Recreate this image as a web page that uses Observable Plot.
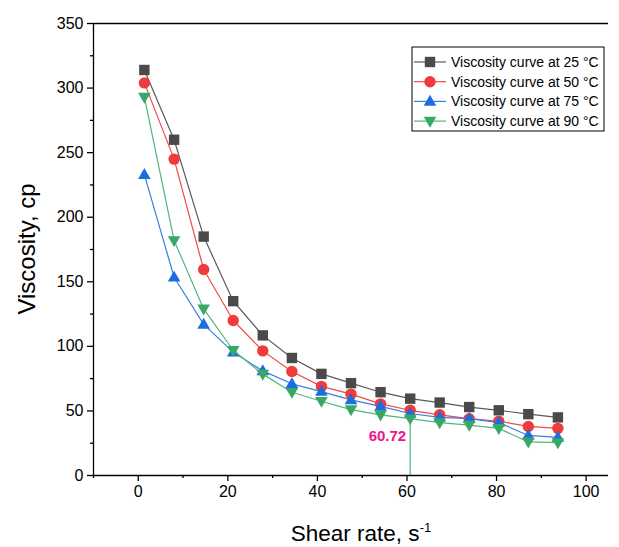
<!DOCTYPE html>
<html><head>
<meta charset="utf-8">
<script src="https://cdn.jsdelivr.net/npm/d3@7"></script>
<script src="https://cdn.jsdelivr.net/npm/@observablehq/plot@0.6"></script>
<style>
body{margin:0;background:#fff}
#c{position:relative;width:619px;height:547px}
</style>
</head><body><div id="c"></div>
<script>
// ---- data ----
const shearRate = [1.36, 8.0, 14.6, 21.2, 27.8, 34.3, 40.9, 47.5, 54.1, 60.72, 67.3, 73.9, 80.5, 87.1, 93.7];
const visc25 = [314, 260, 185, 135, 108.5, 91, 78.7, 71.5, 64.5, 59.5, 56.5, 53, 50.5, 47.5, 45];
const visc50 = [304, 245, 159.5, 120, 96.5, 80.5, 69, 63, 55.5, 50.5, 47, 44, 42, 38, 36.5];
const visc75 = [233, 153.5, 117, 95.5, 81, 71, 65, 58.5, 53.5, 48, 45, 44, 41, 31, 29.5];
const visc90 = [293, 182, 129, 97, 78.5, 64.5, 57.5, 51, 47, 44, 41, 39, 36.5, 26, 25.5];
const seriesLabels = ["Viscosity curve at 25 °C", "Viscosity curve at 50 °C", "Viscosity curve at 75 °C", "Viscosity curve at 90 °C"];
const xTicks = [0, 20, 40, 60, 80, 100];
const xMinorTicks = [-10, 10, 30, 50, 70, 90];
const yTicks = [0, 50, 100, 150, 200, 250, 300, 350];
const yMinorTicks = [25, 75, 125, 175, 225, 275, 325];
const markedIndex = 9; // the 60.72 point on the 90 °C curve

// ---- styles ----
const markerColors = ["#4a4a4a", "#ef3b3b", "#1c6ee0", "#38a866"];
const lineColors = ["#5a5a5a", "#f04a4a", "#3a7ee0", "#52b67c"];
const annotColor = "#f0148a";
const font = "'Liberation Sans', Arial, sans-serif";

const symSquare = {draw(c){ c.moveTo(-5.2,-5.2); c.lineTo(5.2,-5.2); c.lineTo(5.2,5.2); c.lineTo(-5.2,5.2); c.closePath(); }};
const symCircle = {draw(c){ c.moveTo(5.7,0); c.arc(0,0,5.7,0,2*Math.PI); c.closePath(); }};
const symUp = {draw(c){ c.moveTo(0,-6.6); c.lineTo(6.3,4.3); c.lineTo(-6.3,4.3); c.closePath(); }};
const symDown = {draw(c){ c.moveTo(0,6.6); c.lineTo(6.3,-4.3); c.lineTo(-6.3,-4.3); c.closePath(); }};
const symbols = [symSquare, symCircle, symUp, symDown];

const allSeries = [visc25, visc50, visc75, visc90].map(v => shearRate.map((x, i) => ({x, y: v[i]})));

const seriesMarks = allSeries.flatMap((data, k) => [
  Plot.line(data, {x: "x", y: "y", stroke: lineColors[k], strokeWidth: 1.2}),
  Plot.dot(data, {x: "x", y: "y", symbol: symbols[k], fill: markerColors[k], stroke: "none", r: 5})
]);

const marked = [{x: shearRate[markedIndex], y: visc90[markedIndex]}];

const xDomain = [-10, 105], yDomain = [0, 350];

const chart = Plot.plot({
  width: 619, height: 547,
  marginLeft: 93, marginRight: 11, marginTop: 23, marginBottom: 72,
  x: {domain: xDomain, label: null},
  y: {domain: yDomain, label: null},
  style: {fontFamily: font, fontSize: "16px", color: "#000", background: "#fff", overflow: "visible"},
  marks: [
    Plot.ruleX(marked, {x: "x", y1: 0, y2: "y", stroke: lineColors[3], strokeWidth: 1.2}),
    ...seriesMarks,
    Plot.text(marked, {x: "x", y: "y", text: d => d.x.toFixed(2), dx: -4, dy: 18, textAnchor: "end",
      fill: annotColor, fontWeight: "bold", fontSize: 15}),
    Plot.ruleY([yDomain[0]], {stroke: "#000", strokeWidth: 1.3}),
    Plot.ruleY([yDomain[1]], {stroke: "#000", strokeWidth: 1.3}),
    Plot.ruleX([xDomain[0]], {stroke: "#000", strokeWidth: 1.3}),
    Plot.axisX({ticks: xTicks, tickSize: 6, tickPadding: 4, label: null, strokeWidth: 1.3}),
    Plot.axisX({ticks: xMinorTicks, tickSize: 3, tickFormat: () => "", label: null, strokeWidth: 1.3}),
    Plot.axisY({ticks: yTicks, tickSize: 6, tickPadding: 4, label: null, strokeWidth: 1.3}),
    Plot.axisY({ticks: yMinorTicks, tickSize: 3, tickFormat: () => "", label: null, strokeWidth: 1.3})
  ]
});
document.getElementById("c").appendChild(chart);

// ---- axis titles ----
const svg = d3.select(chart);
const cy = (23 + 475) / 2;
svg.append("text").attr("transform", `translate(29,${cy}) rotate(-90)`)
  .attr("text-anchor", "middle").attr("dominant-baseline", "middle")
  .attr("font-family", font).attr("font-size", 24).attr("fill", "#000").text("Viscosity, cp");
const xt = svg.append("text").attr("x", 361).attr("y", 541).attr("text-anchor", "middle")
  .attr("font-family", font).attr("font-size", 22.5).attr("fill", "#000");
xt.append("tspan").text("Shear rate, s");
xt.append("tspan").attr("font-size", 13).attr("dy", -9).text("-1");

// ---- legend ----
const lg = svg.append("g").attr("transform", "translate(412,47)");
lg.append("rect").attr("width", 192).attr("height", 84).attr("fill", "#fff").attr("stroke", "#000").attr("stroke-width", 1);
seriesLabels.forEach((lab, k) => {
  const y = 15 + k * 19.7;
  lg.append("line").attr("x1", 2).attr("x2", 34).attr("y1", y).attr("y2", y)
    .attr("stroke", lineColors[k]).attr("stroke-width", 1.2);
  lg.append("path").attr("d", d3.symbol(symbols[k])()).attr("transform", `translate(18,${y})`)
    .attr("fill", markerColors[k]);
  lg.append("text").attr("x", 39).attr("y", y).attr("dy", "0.35em").attr("text-anchor", "start")
    .attr("font-family", font).attr("font-size", 14).attr("fill", "#000").text(lab);
});
</script>
</body></html>
